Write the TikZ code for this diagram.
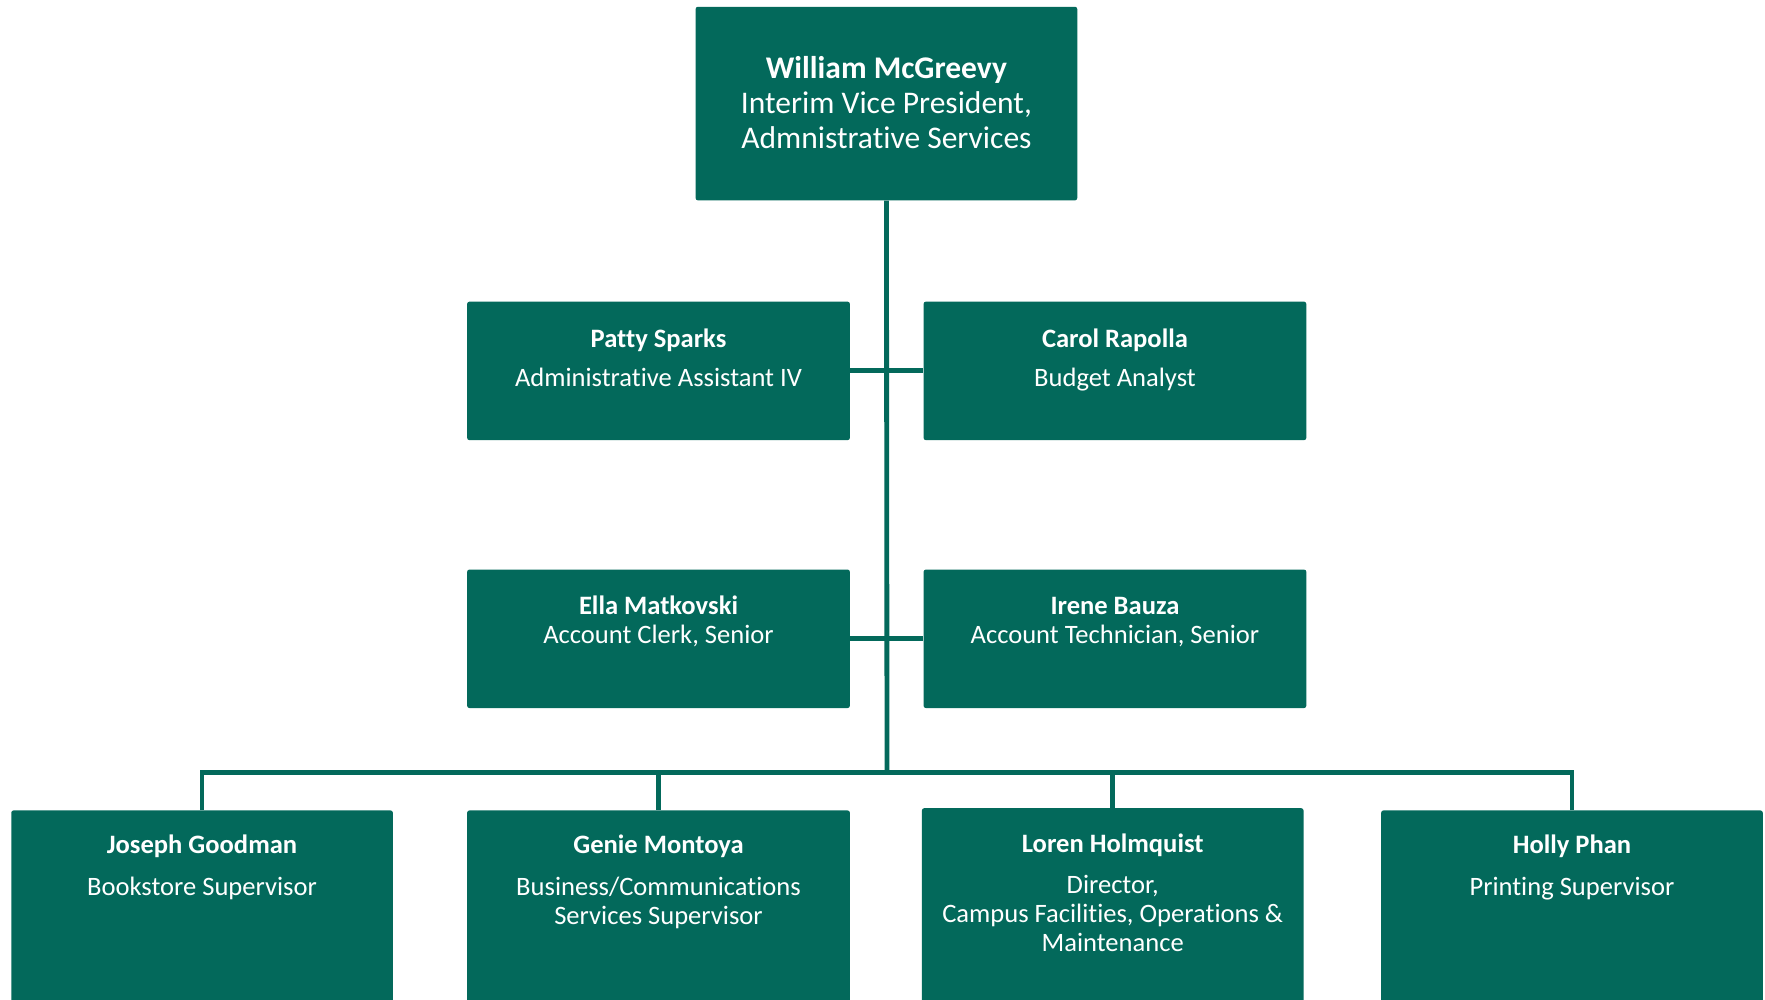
\documentclass[tikz,border=0pt]{standalone}
\usepackage{fontspec}
\setmainfont{Carlito}[Ligatures={NoCommon}]
\definecolor{teal1}{RGB}{3,105,91}
\begin{document}
\begin{tikzpicture}[x=1pt,y=-1pt,
  box/.style={rectangle, fill=teal1, rounded corners=2pt, inner sep=0pt, minimum width=340pt},
  nmtop/.style={anchor=base, text=white, font=\bfseries\fontsize{28}{31}\selectfont},
  tttop/.style={anchor=base, text=white, font=\fontsize{28}{31}\selectfont},
  nm/.style={anchor=base, text=white, font=\bfseries\fontsize{23.6}{26}\selectfont},
  tt/.style={anchor=base, text=white, font=\fontsize{23.6}{26}\selectfont},
  conn/.style={draw=teal1, line width=4.3pt}]
\clip (0,0) rectangle (1568,888);
\fill[white] (0,0) rectangle (1568,888);
% boxes
\node[box, minimum width=339pt, minimum height=172pt] (top) at (787.5,92) {};
\node[box, minimum height=123pt] (patty) at (585,329.5) {};
\node[box, minimum height=123pt] (carol) at (990.5,329.5) {};
\node[box, minimum height=123pt] (ella) at (585,567.5) {};
\node[box, minimum height=123pt] (irene) at (990.5,567.5) {};
\node[box, minimum width=339pt, minimum height=180pt] (joseph) at (179.5,810) {};
\node[box, minimum height=180pt] (genie) at (585,810) {};
\node[box, minimum width=339pt, minimum height=182pt] (loren) at (988.5,809) {};
\node[box, minimum width=339pt, minimum height=180pt] (holly) at (1396.5,810) {};
% connectors
\coordinate (busc) at (788,686);
\draw[conn] (top.south) -- (busc);
\draw[conn] (patty.east) -- (carol.west);
\draw[conn] (ella.east) -- (irene.west);
\draw[conn] (busc) -| (joseph.north);
\draw[conn] (busc) -| (genie.north);
\draw[conn] (busc) -| (loren.north);
\draw[conn] (busc) -| (holly.north);
% texts
\node[nmtop] (t1) at (787.5,70) {William McGreevy};
\node[tttop] (t2) at (787.5,101) {Interim Vice President,};
\node[tttop] (t3) at (787.5,132) {Admnistrative Services};
\node[nm] (p1) at (585,308.5) {Patty Sparks};
\node[tt] (p2) at (585,343.5) {Administrative Assistant IV};
\node[nm] (c1) at (990.5,308.5) {Carol Rapolla};
\node[tt] (c2) at (990.5,343.5) {Budget Analyst};
\node[nm] (e1) at (585,545.5) {Ella Matkovski};
\node[tt] (e2) at (585,571.5) {Account Clerk, Senior};
\node[nm] (i1) at (990.5,545.5) {Irene Bauza};
\node[tt] (i2) at (990.5,571.5) {Account Technician, Senior};
\node[nm] (j1) at (179.5,758.5) {Joseph Goodman};
\node[tt] (j2) at (179.5,795.5) {Bookstore Supervisor};
\node[nm] (g1) at (585,758.5) {Genie Montoya};
\node[tt] (g2) at (585,795.5) {Business/Communications};
\node[tt] (g3) at (585,821.5) {Services Supervisor};
\node[nm] (l1) at (988.5,757.5) {Loren Holmquist};
\node[tt] (l2) at (988.5,793.5) {Director,};
\node[tt] (l3) at (988.5,819.5) {Campus Facilities, Operations \&};
\node[tt] (l4) at (988.5,845.5) {Maintenance};
\node[nm] (h1) at (1396.5,758.5) {Holly Phan};
\node[tt] (h2) at (1396.5,795.5) {Printing Supervisor};
\end{tikzpicture}
\end{document}
